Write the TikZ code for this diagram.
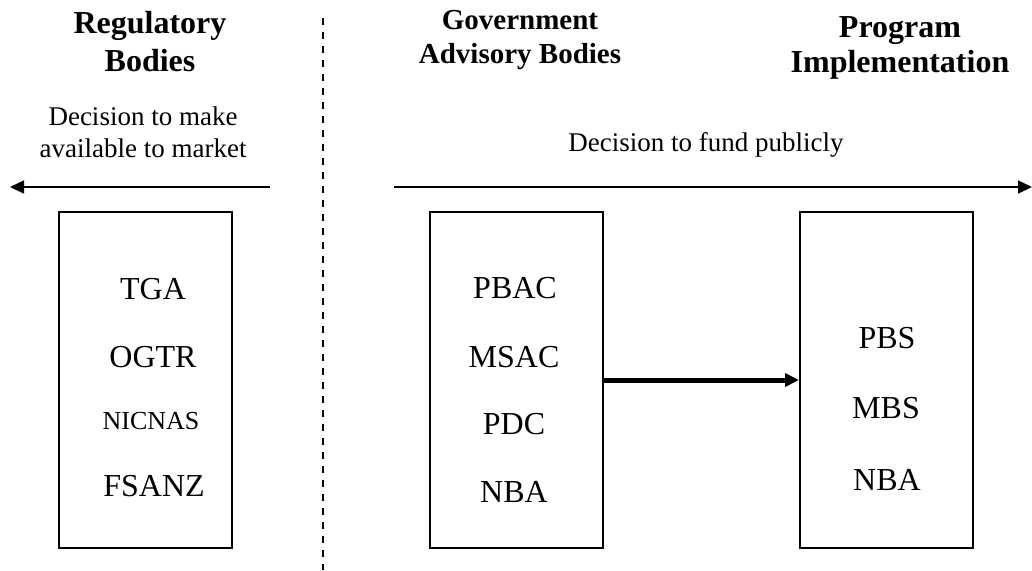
\documentclass[tikz,border=0pt]{standalone}
\usepackage{fontspec}
\setmainfont{Liberation Serif}
\usetikzlibrary{arrows.meta}

\begin{document}
\begin{tikzpicture}[x=0.5pt, y=-0.5pt,
  bodybox/.style={draw, line width=1pt, minimum width=86.5pt, minimum height=168pt, inner sep=0pt},
  head/.style={font=\fontsize{16}{19}\selectfont\bfseries, align=center},
  item/.style={font=\fontsize{16}{19}\selectfont},
  note/.style={font=\fontsize{13.5}{16}\selectfont, align=center}]
  \useasboundingbox (0,0) rectangle (1032,570);

  % divider
  \draw[line width=1pt, dash pattern=on 3.5pt off 3.5pt] (323,18) -- (323,570);

  % headings
  \node[head] (reghead) at (150,42) {Regulatory\\Bodies};
  \node[head, font=\fontsize{14.5}{17}\selectfont\bfseries] (advhead) at (520,40) {Government\\Advisory Bodies};
  \node[head, font=\fontsize{16}{17.5}\selectfont\bfseries] (proghead) at (900,48) {Program\\Implementation};

  % decision labels
  \node[note] (marketnote) at (143,132) {Decision to make\\available to market};
  \node[note] (fundnote) at (706,145) {Decision to fund publicly};

  % decision arrows
  \coordinate (marketstart) at (270,187);
  \coordinate (marketend) at (10,187);
  \coordinate (fundstart) at (394,187);
  \coordinate (fundend) at (1032,187);
  \draw[line width=0.8pt, -{Triangle[length=7pt, width=6.5pt]}] (marketstart) -- (marketend);
  \draw[line width=0.8pt, -{Triangle[length=7pt, width=6.5pt]}] (fundstart) -- (fundend);

  % boxes
  \node[bodybox] (regbox) at (145.5,380) {};
  \node[bodybox] (advbox) at (516,380) {};
  \node[bodybox] (progbox) at (886.5,380) {};

  % regulatory bodies
  \node[item] (tga) at (153,289) {TGA};
  \node[item] (ogtr) at (153,357) {OGTR};
  \node[item, font=\fontsize{13}{15}\selectfont] (nicnas) at (151,421) {NICNAS};
  \node[item] (fsanz) at (154,486) {FSANZ};

  % advisory bodies
  \node[item] (pbac) at (515,288) {PBAC};
  \node[item] (msac) at (514,357) {MSAC};
  \node[item] (pdc) at (514,424) {PDC};
  \node[item] (nbaadv) at (514,492) {NBA};

  % programs
  \node[item] (pbs) at (887,338) {PBS};
  \node[item] (mbs) at (886,408) {MBS};
  \node[item] (nbaprog) at (887,480) {NBA};

  % advice to program
  \draw[line width=2.5pt, -{Triangle[length=7pt, width=6.5pt]}] (advbox.east) -- (progbox.west);
\end{tikzpicture}
\end{document}
